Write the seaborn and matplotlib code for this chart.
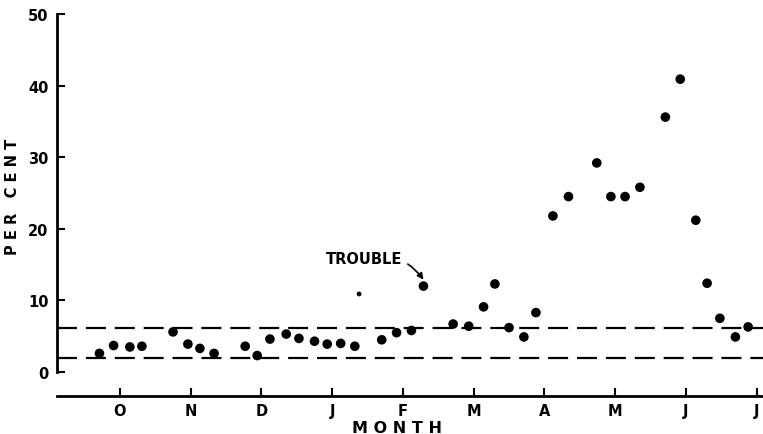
import pandas as pd
import seaborn as sns
import matplotlib.pyplot as plt

# month ticks (O = October ... J = July), x measured in months from the October tick
months = ["O", "N", "D", "J", "F", "M", "A", "M", "J", "J"]
month_pos = [0, 1, 2, 3, 4, 5, 6, 7, 8, 9]

x_month = [-0.29, -0.09, 0.14, 0.31, 0.75, 0.96, 1.13, 1.33, 1.77, 1.94,
           2.12, 2.35, 2.53, 2.75, 2.93, 3.12, 3.32, 3.70, 3.91, 4.12,
           4.29, 4.71, 4.93, 5.14, 5.30, 5.50, 5.71, 5.88, 6.12, 6.34,
           6.74, 6.94, 7.14, 7.35, 7.71, 7.92, 8.14, 8.30, 8.48, 8.70, 8.88]
per_cent = [2.6, 3.7, 3.5, 3.6, 5.6, 3.9, 3.3, 2.6, 3.6, 2.3,
            4.6, 5.3, 4.7, 4.3, 3.9, 4.0, 3.6, 4.5, 5.5, 5.8,
            12.0, 6.7, 6.4, 9.1, 12.3, 6.2, 4.9, 8.3, 21.8, 24.5,
            29.2, 24.5, 24.5, 25.8, 35.6, 40.9, 21.2, 12.4, 7.5, 4.9, 6.3]

# the small stray dot in January
small_x = [3.38]
small_y = [10.9]

upper_limit = 6.2
lower_limit = 1.9
trouble_idx = 20

df = pd.DataFrame({"month": x_month, "pct": per_cent})
df_small = pd.DataFrame({"month": small_x, "pct": small_y})

sns.set_style("ticks")
plt.rcParams["font.family"] = ["DejaVu Sans"]
for key in ["text.color", "axes.labelcolor", "xtick.color", "ytick.color",
            "axes.edgecolor"]:
    plt.rcParams[key] = "black"

fig = plt.figure(figsize=(7.63, 4.35), dpi=100)
ax = fig.add_axes([57 / 763, 1 - 397 / 435, 1 - 57 / 763, (397 - 15) / 435])

ax.axhline(upper_limit, color="black", lw=1.6, dashes=(9, 4))
ax.axhline(lower_limit, color="black", lw=1.6, dashes=(9, 4))

sns.scatterplot(data=df, x="month", y="pct", ax=ax, color="black",
                s=48, edgecolor="none", zorder=3)
sns.scatterplot(data=df_small, x="month", y="pct", ax=ax, color="black",
                s=12, edgecolor="none", zorder=3)

ax.annotate("TROUBLE", xy=(x_month[trouble_idx], per_cent[trouble_idx] + 0.9),
            xytext=(x_month[trouble_idx] - 0.3, per_cent[trouble_idx] + 3.8),
            ha="right", va="center", fontsize=10.5, fontweight="bold",
            arrowprops=dict(arrowstyle="-|>", color="black", lw=1.2,
                            connectionstyle="arc3,rad=-0.35",
                            shrinkA=2, shrinkB=0, mutation_scale=9))

ax.set_xlim(-0.89, 9.09)
ax.set_ylim(-3.35, 50)
ax.spines["top"].set_visible(False)
ax.spines["right"].set_visible(False)
ax.spines["left"].set_bounds(0, 50)
ax.spines["left"].set_linewidth(2)
ax.spines["bottom"].set_linewidth(2)

ax.set_yticks([0, 10, 20, 30, 40, 50])
ax.set_xticks(month_pos)
ax.set_xticklabels(months)
ax.tick_params(axis="y", direction="in", length=6, width=1.5, pad=6,
               labelsize=10.5)
ax.tick_params(axis="x", direction="in", length=6, width=1.5, pad=5,
               labelsize=10.5)
for lab in ax.get_xticklabels() + ax.get_yticklabels():
    lab.set_fontweight("bold")

ax.set_xlabel("M O N T H", fontsize=11.5, fontweight="bold")
ax.xaxis.set_label_coords((397 - 57) / 706, -0.062)
ax.set_ylabel("P E R   C E N T", fontsize=10.5, fontweight="bold")
ax.yaxis.set_label_coords(-0.052, 0.524)

plt.savefig("out.png", dpi=100)
